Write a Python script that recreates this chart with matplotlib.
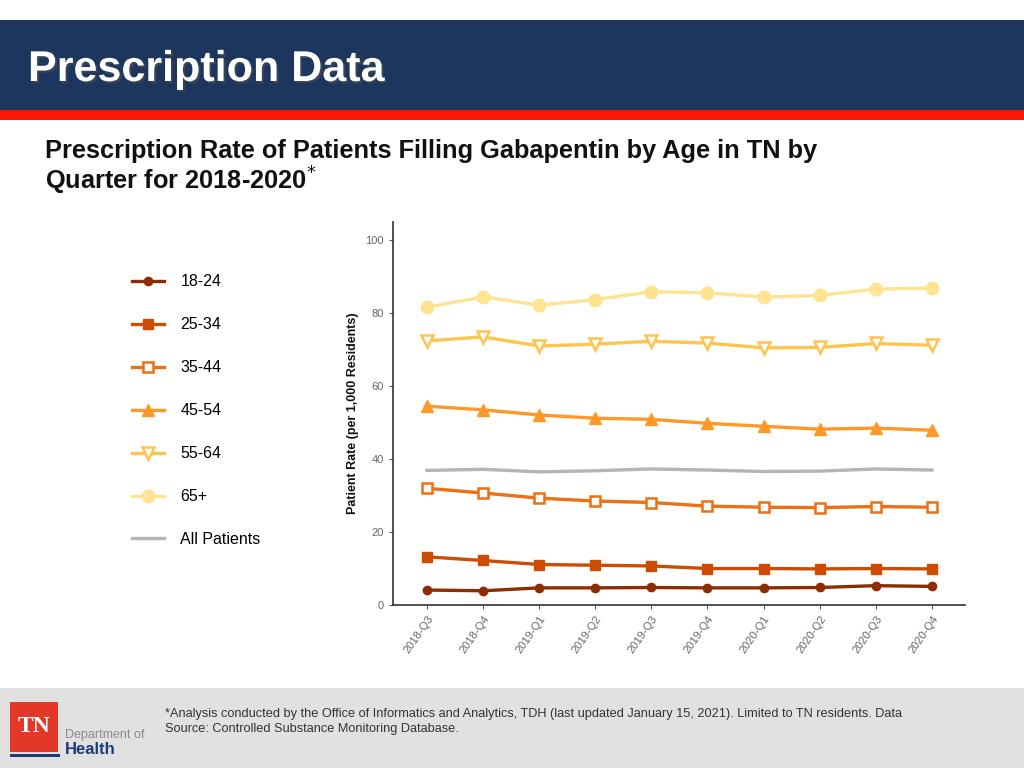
import matplotlib
matplotlib.use("Agg")
import matplotlib.pyplot as plt
from matplotlib.patches import Rectangle
import matplotlib.patheffects as pe

plt.rcParams["font.family"] = ["Liberation Sans", "DejaVu Sans"]

quarters = ["2018-Q3", "2018-Q4", "2019-Q1", "2019-Q2", "2019-Q3",
            "2019-Q4", "2020-Q1", "2020-Q2", "2020-Q3", "2020-Q4"]
age_18_24 = [4.1, 3.9, 4.7, 4.7, 4.8, 4.7, 4.7, 4.8, 5.3, 5.1]
age_25_34 = [13.2, 12.2, 11.1, 10.9, 10.7, 10.0, 10.0, 9.9, 10.0, 9.9]
age_35_44 = [32.0, 30.7, 29.3, 28.5, 28.1, 27.1, 26.8, 26.7, 27.0, 26.8]
age_45_54 = [54.5, 53.5, 52.1, 51.2, 50.9, 49.8, 49.0, 48.2, 48.5, 47.9]
age_55_64 = [72.4, 73.5, 71.0, 71.5, 72.3, 71.8, 70.5, 70.6, 71.7, 71.2]
age_65_up = [81.6, 84.5, 82.2, 83.7, 85.9, 85.6, 84.4, 84.9, 86.6, 86.9]
all_patients = [36.9, 37.2, 36.5, 36.8, 37.3, 37.0, 36.6, 36.7, 37.3, 37.0]

fig = plt.figure(figsize=(10.24, 7.68), dpi=100)
fig.patch.set_facecolor("white")

# header bands
fig.add_artist(Rectangle((0, 1 - 110/768), 1, 90/768, transform=fig.transFigure,
                         facecolor="#1c365e", edgecolor="none"))
fig.add_artist(Rectangle((0, 1 - 120/768), 1, 10/768, transform=fig.transFigure,
                         facecolor="#fc1604", edgecolor="none"))
fig.text(28/1024, 1 - 70/768, "Prescription Data", color="white", fontsize=31,
         fontweight="bold", va="center", ha="left",
         path_effects=[pe.withSimplePatchShadow(offset=(1.5, -1.5), alpha=0.6)])

# subtitle
fig.text(45/1024, 1 - 151/768,
         "Prescription Rate of Patients Filling Gabapentin by Age in TN by",
         fontsize=18.3, fontweight="bold", va="center", ha="left", color="#111111")
fig.text(45/1024, 1 - 181/768, "Quarter for 2018-2020$^{*}$",
         fontsize=18.3, fontweight="bold", va="center", ha="left", color="#111111")

# footer
fig.add_artist(Rectangle((0, 0), 1, 80/768, transform=fig.transFigure,
                         facecolor="#e1e1e1", edgecolor="none"))
fig.add_artist(Rectangle((10/1024, 1 - 752/768), 48/1024, 50/768, transform=fig.transFigure,
                         facecolor="#e3372a", edgecolor="none"))
fig.add_artist(Rectangle((10/1024, 1 - 757/768), 50/1024, 3/768, transform=fig.transFigure,
                         facecolor="#1c3a7a", edgecolor="none"))
fig.text(34/1024, 1 - 726/768, "TN", color="white", fontsize=17, fontweight="bold",
         family=["Liberation Serif", "DejaVu Serif"], ha="center", va="center")
fig.text(65/1024, 1 - 735/768, "Department of", color="#8a8a8a", fontsize=9,
         ha="left", va="center")
fig.text(65/1024, 1 - 750/768, "Health", color="#1c3a7a", fontsize=12, fontweight="bold",
         ha="left", va="center")
fig.text(165/1024, 1 - 714/768,
         "*Analysis conducted by the Office of Informatics and Analytics, TDH (last updated January 15, 2021). Limited to TN residents. Data",
         fontsize=9.2, color="#333333", ha="left", va="center")
fig.text(165/1024, 1 - 729/768, "Source: Controlled Substance Monitoring Database.",
         fontsize=9.2, color="#333333", ha="left", va="center")

# chart
ax = fig.add_axes([393/1024, 1 - 605/768, 572/1024, 383/768])
x = list(range(len(quarters)))
lw = 2.4
ms = 7
h1, = ax.plot(x, age_18_24, color="#8c2d04", lw=lw, marker="o", ms=ms - 1, label="18-24")
h2, = ax.plot(x, age_25_34, color="#cc4c02", lw=lw, marker="s", ms=ms, label="25-34")
h3, = ax.plot(x, age_35_44, color="#ec7014", lw=lw, marker="s", ms=ms, mfc="white",
              mew=1.8, label="35-44")
h4, = ax.plot(x, age_45_54, color="#fe9929", lw=lw, marker="^", ms=ms + 1, label="45-54")
h5, = ax.plot(x, age_55_64, color="#fec44f", lw=lw, marker="v", ms=ms + 2, mfc="white",
              mew=1.8, label="55-64")
h6, = ax.plot(x, age_65_up, color="#fee391", lw=lw, marker="o", ms=ms + 2, label="65+")
h7, = ax.plot(x, all_patients, color="#b5b5b5", lw=lw, label="All Patients")

ax.set_xlim(-0.606, 9.59)
ax.set_ylim(0, 105)
ax.set_yticks([0, 20, 40, 60, 80, 100])
ax.set_xticks(x)
ax.set_xticklabels(quarters, rotation=55, ha="right", rotation_mode="anchor")
ax.tick_params(labelsize=8, colors="#555555", length=3, width=0.8)
for lab in ax.get_xticklabels() + ax.get_yticklabels():
    lab.set_color("#666666")
for s in ["top", "right"]:
    ax.spines[s].set_visible(False)
for s in ["left", "bottom"]:
    ax.spines[s].set_color("#333333")
    ax.spines[s].set_linewidth(1.2)
ax.set_ylabel("Patient Rate (per 1,000 Residents)", fontsize=9, fontweight="bold",
              color="#111111", labelpad=5)

leg = fig.legend(handles=[h1, h2, h3, h4, h5, h6, h7],
                 loc="upper left", bbox_to_anchor=(118/1024, 1 - 260/768),
                 frameon=False, fontsize=11.5, handlelength=2.0, labelspacing=1.75,
                 handletextpad=1.0)

fig.savefig("out.png", dpi=100)
